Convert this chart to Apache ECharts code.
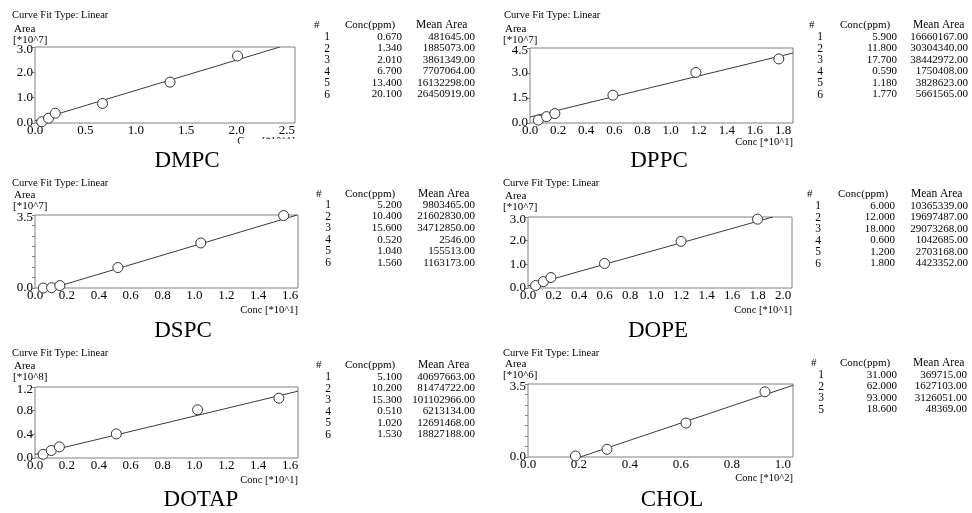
<!DOCTYPE html>
<html><head><meta charset="utf-8">
<script src="https://cdn.jsdelivr.net/npm/echarts@6/dist/echarts.min.js"></script>
<style>html,body{margin:0;padding:0;background:#fff}#c{width:972px;height:513px}</style>
</head><body><div id="c"></div>
<script>
// ---------- data ----------
const dmpcIdx  = [1, 2, 3, 4, 5, 6];
const dmpcConc = [0.670, 1.340, 2.010, 6.700, 13.400, 20.100];
const dmpcArea = [481645.00, 1885073.00, 3861349.00, 7707064.00, 16132298.00, 26450919.00];
const dmpcFit  = [[0, 0.09], [2.43, 3.0]];

const dppcIdx  = [1, 2, 3, 4, 5, 6];
const dppcConc = [5.900, 11.800, 17.700, 0.590, 1.180, 1.770];
const dppcArea = [16660167.00, 30304340.00, 38442972.00, 1750408.00, 3828623.00, 5661565.00];
const dppcFit  = [[0, 0.36], [1.871, 4.2]];

const dspcIdx  = [1, 2, 3, 4, 5, 6];
const dspcConc = [5.200, 10.400, 15.600, 0.520, 1.040, 1.560];
const dspcArea = [9803465.00, 21602830.00, 34712850.00, 2546.00, 155513.00, 1163173.00];
const dspcFit  = [[0.11, 0], [1.645, 3.5]];

const dopeIdx  = [1, 2, 3, 4, 5, 6];
const dopeConc = [6.000, 12.000, 18.000, 0.600, 1.200, 1.800];
const dopeArea = [10365339.00, 19697487.00, 29073268.00, 1042685.00, 2703168.00, 4423352.00];
const dopeFit  = [[0, 0.09], [1.92, 3.0]];

const dotapIdx  = [1, 2, 3, 4, 5, 6];
const dotapConc = [5.100, 10.200, 15.300, 0.510, 1.020, 1.530];
const dotapArea = [40697663.00, 81474722.00, 101102966.00, 6213134.00, 12691468.00, 18827188.00];
const dotapFit  = [[0, 0.06], [1.65, 1.13]];

const cholIdx  = [1, 2, 3, 5];
const cholConc = [31.000, 62.000, 93.000, 18.600];
const cholArea = [369715.00, 1627103.00, 3126051.00, 48369.00];
const cholFit  = [[0.205, 0], [1.04, 3.44]];

const titles = ['DMPC', 'DPPC', 'DSPC', 'DOPE', 'DOTAP', 'CHOL'];
const xUnitLabels = ['Conc [*10^1]', 'Conc [*10^1]', 'Conc [*10^1]', 'Conc [*10^1]', 'Conc [*10^1]', 'Conc [*10^2]'];
const yUnitLabels = ['[*10^7]', '[*10^7]', '[*10^7]', '[*10^7]', '[*10^8]', '[*10^6]'];
const xPow = [1, 1, 1, 1, 1, 2];
const yPow = [7, 7, 7, 7, 8, 6];

// ---------- layout ----------
const FONT = '"Liberation Serif", "Times New Roman", serif';
const P = [
  {idx:dmpcIdx, conc:dmpcConc, area:dmpcArea, fit:dmpcFit,
   grid:{left:35,top:47,width:260,height:76}, xMax:2.58, xInt:0.5, yMax:3.0, yInt:1.0, yEnds:false,
   cft:[12,15], area1:[14,29], unit:[13,40], cpos:[295,141], title:[187,161],
   tbl:{hash:314, idx:327, ch:345, cr:402, mh:416, mr:475, hy:25, y0:37, dy:11.5}},
  {idx:dppcIdx, conc:dppcConc, area:dppcArea, fit:dppcFit,
   grid:{left:530,top:48,width:263,height:75}, xMax:1.871, xInt:0.2, yMax:4.5, yInt:1.5, yEnds:false,
   cft:[504,15], area1:[505,29], unit:[503,40], cpos:[793,142], title:[659,161],
   tbl:{hash:809, idx:820, ch:840, cr:897, mh:913, mr:968, hy:25, y0:37, dy:11.5}},
  {idx:dspcIdx, conc:dspcConc, area:dspcArea, fit:dspcFit,
   grid:{left:35,top:215,width:263,height:73}, xMax:1.65, xInt:0.2, yMax:3.5, yInt:0.5, yEnds:true,
   cft:[12,183], area1:[14,195], unit:[13,206], cpos:[298,310], title:[183,331],
   tbl:{hash:316, idx:328, ch:345, cr:402, mh:418, mr:475, hy:194, y0:205, dy:11.6}},
  {idx:dopeIdx, conc:dopeConc, area:dopeArea, fit:dopeFit,
   grid:{left:528,top:217,width:264,height:71}, xMax:2.07, xInt:0.2, yMax:3.0, yInt:1.0, yEnds:false,
   cft:[503,183], area1:[505,196], unit:[503,207], cpos:[792,310], title:[658,331],
   tbl:{hash:807, idx:818, ch:838, cr:895, mh:911, mr:968, hy:194, y0:206, dy:11.5}},
  {idx:dotapIdx, conc:dotapConc, area:dotapArea, fit:dotapFit,
   grid:{left:35,top:387,width:263,height:71}, xMax:1.65, xInt:0.2, yMax:1.2, yInt:0.4, yEnds:false,
   cft:[12,353], area1:[14,366], unit:[13,377], cpos:[298,480], title:[201,500],
   tbl:{hash:316, idx:328, ch:345, cr:402, mh:418, mr:475, hy:365, y0:377, dy:11.5}},
  {idx:cholIdx, conc:cholConc, area:cholArea, fit:cholFit,
   grid:{left:528,top:384,width:265,height:73}, xMax:1.04, xInt:0.2, yMax:3.5, yInt:0.5, yEnds:true,
   cft:[503,353], area1:[505,364], unit:[503,375], cpos:[793,478], title:[672,500],
   tbl:{hash:811, idx:821, ch:840, cr:897, mh:913, mr:967, hy:363, y0:375, dy:11.5}}
];

function isMult(v, step){ const r = v / step; return Math.abs(r - Math.round(r)) < 1e-6; }
function txt(x, y, s, size, align){
  return {type:'text', x:x, y:y, silent:true, z:50,
    style:{text:s, font:size+'px '+FONT, fill:'#000', align:align||'left', verticalAlign:'middle',
           textAlign:align||'left', textVerticalAlign:'middle'}};
}

const grids = [], xAxes = [], yAxes = [], series = [], graphics = [];
P.forEach((p, i) => {
  grids.push(Object.assign({show:true, borderColor:'#808080', borderWidth:1, backgroundColor:'#fff'}, p.grid));
  xAxes.push({type:'value', gridIndex:i, min:0, max:p.xMax, interval:p.xInt,
    axisLine:{show:false}, axisTick:{show:false}, splitLine:{show:false},
    axisLabel:{margin:1, fontSize:13, fontFamily:FONT, color:'#000',
      formatter: v => isMult(v, p.xInt) ? v.toFixed(1) : ''}});
  yAxes.push({type:'value', gridIndex:i, min:0, max:p.yMax, interval:p.yInt,
    axisLine:{show:false}, splitLine:{show:false},
    axisTick:{show:true, inside:false, length:3, lineStyle:{color:'#808080'}},
    axisLabel:{margin:2, color:'#000',
      formatter: v => {
        const show = p.yEnds ? (Math.abs(v) < 1e-9 || Math.abs(v - p.yMax) < 1e-9) : true;
        if (!show) return '';
        return (Math.abs(v - p.yMax) < 1e-9 ? '{top|' : '{v|') + v.toFixed(1) + '}';
      },
      rich:{
        v:{fontSize:13, fontFamily:FONT, color:'#000'},
        top:{fontSize:13, fontFamily:FONT, color:'#000', padding:[5,0,0,0]}
      }}});
  series.push({type:'line', xAxisIndex:i, yAxisIndex:i, data:p.fit, showSymbol:false, symbol:'none',
    lineStyle:{color:'#3a3a3a', width:1}, z:2, silent:true, animation:false});
  series.push({type:'scatter', xAxisIndex:i, yAxisIndex:i, symbol:'circle', symbolSize:10,
    data:p.conc.map((c, k) => [c / Math.pow(10, xPow[i]), p.area[k] / Math.pow(10, yPow[i])]),
    itemStyle:{color:'#fff', borderColor:'#333', borderWidth:1, opacity:1}, z:3, silent:true, animation:false});

  graphics.push(txt(p.cft[0], p.cft[1], 'Curve Fit Type: Linear', 10.5));
  graphics.push(txt(p.area1[0], p.area1[1], 'Area', 11));
  graphics.push(txt(p.unit[0], p.unit[1], yUnitLabels[i], 11));
  graphics.push(txt(p.cpos[0], p.cpos[1], xUnitLabels[i], 10.5, 'right'));
  graphics.push(txt(p.title[0], p.title[1], titles[i], 23, 'center'));
  const t = p.tbl;
  graphics.push(txt(t.hash, t.hy, '#', 11));
  graphics.push(txt(t.ch, t.hy, 'Conc(ppm)', 11));
  graphics.push(txt(t.mh, t.hy, 'Mean Area', 11.5));
  p.idx.forEach((n, k) => {
    const y = t.y0 + k * t.dy;
    graphics.push(txt(t.idx, y, String(n), 11.5, 'center'));
    graphics.push(txt(t.cr, y, p.conc[k].toFixed(3), 11, 'right'));
    graphics.push(txt(t.mr, y, p.area[k].toFixed(2), 11, 'right'));
  });
});
// the DMPC x-axis name is cut off in the reference image
graphics.push({type:'rect', shape:{x:240, y:139, width:60, height:10}, style:{fill:'#fff'}, z:60, silent:true});

const chart = echarts.init(document.getElementById('c'), null, {renderer:'canvas'});
chart.setOption({
  backgroundColor:'#fff', animation:false,
  grid:grids, xAxis:xAxes, yAxis:yAxes, series:series, graphic:graphics
});
</script></body></html>
